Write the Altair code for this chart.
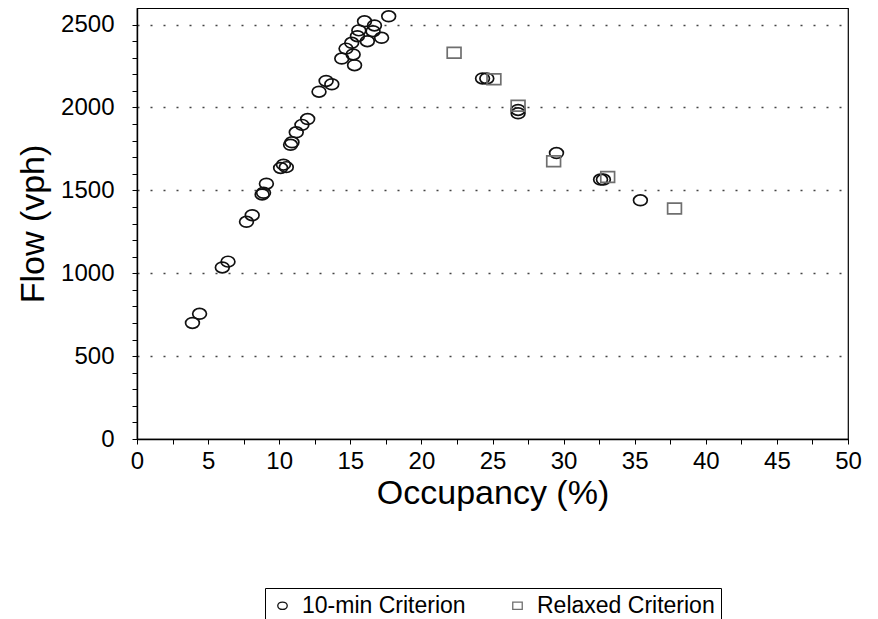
import altair as alt
import pandas as pd

# 10-min criterion (circles)
crit_occ = [3.9, 4.4, 6.0, 6.4, 7.7, 8.1, 8.8, 8.9, 9.1, 10.1, 10.3, 10.5,
            10.8, 10.9, 11.2, 11.6, 12.0, 12.8, 13.3, 13.7, 14.4, 14.7, 15.1,
            15.2, 15.3, 15.5, 15.6, 16.0, 16.2, 16.6, 16.7, 17.2, 17.7,
            24.3, 24.6, 26.8, 26.8, 29.5, 32.6, 32.8, 35.4]
crit_flow = [700, 755, 1035, 1070, 1310, 1350, 1475, 1485, 1540, 1635, 1655, 1640,
             1775, 1790, 1850, 1895, 1930, 2095, 2160, 2140, 2295, 2355, 2390,
             2320, 2255, 2430, 2465, 2520, 2400, 2460, 2495, 2420, 2550,
             2175, 2175, 1985, 1965, 1725, 1565, 1565, 1440]

# Relaxed criterion (squares)
rel_occ = [22.3, 25.1, 26.8, 29.3, 33.1, 37.8]
rel_flow = [2330, 2170, 2010, 1675, 1580, 1390]

series_names = ["10-min Criterion", "Relaxed Criterion"]
x_ticks = [i * 2.5 for i in range(21)]
y_ticks = list(range(0, 2600, 100))

df = pd.concat([
    pd.DataFrame({"occ": crit_occ, "flow": crit_flow, "series": series_names[0]}),
    pd.DataFrame({"occ": rel_occ, "flow": rel_flow, "series": series_names[1]}),
], ignore_index=True)

ellipse = "M -1 0 A 1 0.78 0 1 0 1 0 A 1 0.78 0 1 0 -1 0 Z"
rect = "M -1 -0.78 L 1 -0.78 L 1 0.78 L -1 0.78 Z"

FONT = "Liberation Sans"

legend = alt.Legend(
    title=None, orient="none", legendX=128, legendY=580, direction="horizontal",
    strokeColor="black", padding=6, fillColor="white",
    labelFont=FONT, labelFontSize=23, labelColor="black", labelOffset=8,
    labelLimit=400, symbolSize=90, symbolStrokeWidth=1.3, columnPadding=40,
)

chart = alt.Chart(df).mark_point(filled=False, strokeWidth=1.7, opacity=1, size=190).encode(
    x=alt.X("occ:Q", scale=alt.Scale(domain=[0, 50], nice=False, zero=True),
            axis=alt.Axis(values=x_ticks, title="Occupancy (%)", grid=False,
                          labelExpr="datum.value % 5 === 0 ? format(datum.value, 'd') : ''",
                          labelFlush=False, tickSize=5, labelPadding=5, titlePadding=3)),
    y=alt.Y("flow:Q", scale=alt.Scale(domain=[0, 2600], nice=False, zero=True),
            axis=alt.Axis(values=y_ticks, title="Flow (vph)", grid=True,
                          labelExpr="datum.value % 500 === 0 ? format(datum.value, 'd') : ''",
                          gridOpacity={"condition": {"test": "datum.value % 500 === 0 && datum.value > 0", "value": 1}, "value": 0},
                          labelFlush=False, tickSize=5, labelPadding=18, titlePadding=10)),
    shape=alt.Shape("series:N", scale=alt.Scale(domain=series_names, range=[ellipse, rect]), legend=legend),
    color=alt.Color("series:N", scale=alt.Scale(domain=series_names, range=["#111111", "#6f6f6f"]), legend=legend),
).properties(
    width=711,
    height=431,
    autosize=alt.AutoSizeParams(type="none"),
    padding={"left": 129, "top": 0, "right": 22, "bottom": 180},
).configure_view(
    stroke="black", strokeWidth=1.2
).configure_axis(
    labelFont=FONT, labelFontSize=24, labelColor="black",
    titleFont=FONT, titleFontSize=34, titleFontWeight="normal", titleColor="black",
    domainColor="black", domainWidth=1.4, tickColor="black", tickWidth=1,
    gridColor="#444444", gridDash=[2, 11], gridWidth=1.3,
)

chart.save("out.html", embed_options={"renderer": "svg", "actions": False})
